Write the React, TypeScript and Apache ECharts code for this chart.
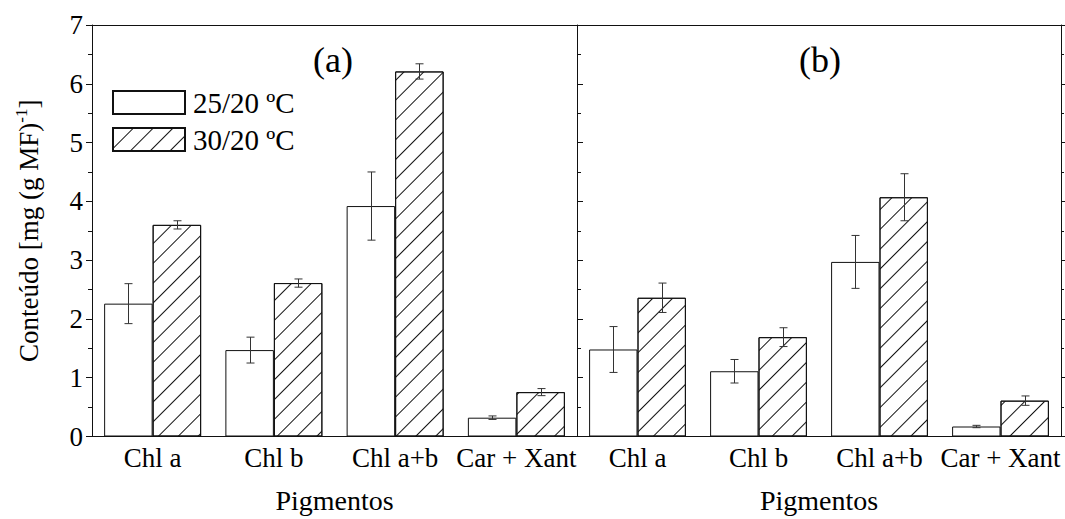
import React, { useEffect, useRef } from "react";
import * as echarts from "echarts";

const categories = ["Chl a", "Chl b", "Chl a+b", "Car + Xant"];
const seriesNames = ["25/20 ºC", "30/20 ºC"];
const yTickValues = [0, 1, 2, 3, 4, 5, 6, 7];

// Panel (a)
const a25 = [2.26, 1.47, 3.92, 0.32];
const a25Err = [0.34, 0.22, 0.58, 0.03];
const a30 = [3.6, 2.61, 6.21, 0.755];
const a30Err = [0.07, 0.07, 0.13, 0.06];
// Panel (b)
const b25 = [1.48, 1.11, 2.97, 0.17];
const b25Err = [0.39, 0.2, 0.45, 0.02];
const b30 = [2.36, 1.69, 4.07, 0.61];
const b30Err = [0.25, 0.16, 0.4, 0.08];

const FONT = "Liberation Serif";
const INK = "#111";

const hatch = {
  symbol: "rect",
  symbolSize: 1,
  dashArrayX: [1, 0],
  dashArrayY: [1, 12.4],
  rotation: -Math.PI / 4,
  color: "#111",
  backgroundColor: "#fff",
};

function errData(v25: number[], e25: number[], v30: number[], e30: number[]) {
  const out: number[][] = [];
  v25.forEach((v, i) => out.push([i, v, e25[i], 0]));
  v30.forEach((v, i) => out.push([i, v, e30[i], 1]));
  return out;
}

function renderErr(params: any, api: any) {
  const x = api.value(0);
  const v = api.value(1);
  const e = api.value(2);
  const s = api.value(3);
  const bw = api.size([1, 0])[0];
  const c = api.coord([x, v]);
  const cx = Math.round(c[0] + (s === 0 ? -0.2 : 0.2) * bw) + 0.5;
  const top = api.coord([x, v + e])[1];
  const bot = api.coord([x, v - e])[1];
  const hw = 4;
  const st = { stroke: "#333", lineWidth: 1 };
  return {
    type: "group",
    children: [
      { type: "line", shape: { x1: cx, y1: top, x2: cx, y2: bot }, style: st },
      { type: "line", shape: { x1: cx - hw, y1: top, x2: cx + hw, y2: top }, style: st },
      { type: "line", shape: { x1: cx - hw, y1: bot, x2: cx + hw, y2: bot }, style: st },
    ],
  };
}

function barSeries(name: string, data: number[], idx: number, hatched: boolean) {
  return {
    type: "bar",
    name,
    xAxisIndex: idx === 0 ? 0 : 3,
    yAxisIndex: idx === 0 ? 0 : 1,
    data,
    barWidth: "40%",
    barGap: "0%",
    itemStyle: {
      color: "#fff",
      borderColor: INK,
      borderWidth: 1,
      decal: hatched ? hatch : undefined,
    },
    emphasis: { disabled: true },
  };
}

export default function App() {
  const ref = useRef<HTMLDivElement>(null);
  useEffect(() => {
    if (!ref.current) return;
    const chart = echarts.init(ref.current, undefined, { renderer: "svg" });
    const gridTop = 25;
    const gridH = 411.5;
    const xAxes: any[] = [];
    [0, 1].forEach((g) => {
      xAxes.push({
        type: "category",
        gridIndex: g,
        data: categories,
        position: "bottom",
        axisLine: { lineStyle: { color: INK, width: 1 } },
        axisTick: { alignWithLabel: true, length: 5, lineStyle: { color: INK } },
        axisLabel: { fontFamily: FONT, fontSize: 27, color: "#000", margin: 8, interval: 0 },
        name: "Pigmentos",
        nameLocation: "middle",
        nameGap: 50,
        nameTextStyle: { fontFamily: FONT, fontSize: 28, color: "#000" },
      });
      xAxes.push({
        type: "category",
        gridIndex: g,
        data: categories,
        position: "bottom",
        axisLine: { show: false },
        axisTick: { length: 3, interval: 0, lineStyle: { color: INK } },
        axisLabel: { show: false },
      });
      xAxes.push({
        type: "category",
        gridIndex: g,
        data: categories,
        position: "top",
        axisLine: { lineStyle: { color: INK, width: 1 } },
        axisTick: { length: 2, interval: 0, lineStyle: { color: INK } },
        axisLabel: { show: false },
      });
    });

    const option: any = {
      animation: false,
      backgroundColor: "#fff",
      textStyle: { fontFamily: FONT },
      grid: [
        { left: 92, top: gridTop, width: 485, height: gridH, containLabel: false, outerBoundsMode: "none" },
        { left: 577, top: gridTop, width: 484, height: gridH, containLabel: false, outerBoundsMode: "none" },
      ],
      legend: {
        data: seriesNames,
        left: 112,
        top: 88,
        padding: 0,
        orient: "vertical",
        icon: "rect",
        itemWidth: 72,
        itemHeight: 23,
        itemGap: 8,
        selectedMode: false,
        textStyle: { fontFamily: FONT, fontSize: 29, color: "#000", lineHeight: 23, padding: [0, 0, 0, 3] },
      },
      xAxis: xAxes,
      yAxis: [
        {
          type: "value",
          gridIndex: 0,
          min: 0,
          max: 7,
          interval: 1,
          position: "left",
          axisLine: { show: true, lineStyle: { color: INK } },
          axisTick: { show: true, length: 6, lineStyle: { color: INK } },
          minorTick: { show: true, splitNumber: 2, length: 4, lineStyle: { color: INK } },
          splitLine: { show: false },
          axisLabel: {
            fontFamily: FONT,
            fontSize: 27,
            color: "#000",
            margin: 9,
            formatter: (v: number) => (yTickValues.includes(v) ? String(v) : ""),
          },
          name: "Conteúdo [mg (g MF){sup|-1}]",
          nameLocation: "middle",
          nameGap: 48,
          nameRotate: 90,
          nameTextStyle: {
            fontFamily: FONT,
            fontSize: 27,
            color: "#000",
            rich: {
              sup: { fontFamily: FONT, fontSize: 17, color: "#000", padding: [0, 0, 14, 0] },
            },
          },
        },
        {
          type: "value",
          gridIndex: 1,
          min: 0,
          max: 7,
          interval: 1,
          position: "left",
          axisLine: { show: true, lineStyle: { color: INK } },
          axisTick: { show: true, inside: true, length: 6, lineStyle: { color: INK } },
          minorTick: { show: true, splitNumber: 2, length: 4, lineStyle: { color: INK } },
          splitLine: { show: false },
          axisLabel: { show: false },
        },
        {
          type: "value",
          gridIndex: 1,
          min: 0,
          max: 7,
          interval: 1,
          position: "right",
          axisLine: { show: true, lineStyle: { color: INK } },
          axisTick: { show: true, length: 4, lineStyle: { color: INK } },
          minorTick: { show: true, splitNumber: 2, length: 3, lineStyle: { color: INK } },
          splitLine: { show: false },
          axisLabel: { show: false },
        },
      ],
      graphic: [
        {
          type: "text",
          left: 333 - 20,
          top: 42,
          style: { text: "(a)", fontFamily: FONT, fontSize: 36, fill: "#000" },
        },
        {
          type: "text",
          left: 819 - 20,
          top: 42,
          style: { text: "(b)", fontFamily: FONT, fontSize: 36, fill: "#000" },
        },
      ],
      series: [
        barSeries(seriesNames[0], a25, 0, false),
        barSeries(seriesNames[1], a30, 0, true),
        barSeries(seriesNames[0], b25, 1, false),
        barSeries(seriesNames[1], b30, 1, true),
        {
          type: "custom",
          xAxisIndex: 0,
          yAxisIndex: 0,
          data: errData(a25, a25Err, a30, a30Err),
          renderItem: renderErr,
          z: 5,
          silent: true,
        },
        {
          type: "custom",
          xAxisIndex: 3,
          yAxisIndex: 1,
          data: errData(b25, b25Err, b30, b30Err),
          renderItem: renderErr,
          z: 5,
          silent: true,
        },
      ],
    };
    chart.setOption(option);
    return () => chart.dispose();
  }, []);
  return (
    <div
      ref={ref}
      style={{ position: "fixed", left: 0, top: 0, width: 1065, height: 519, background: "#fff" }}
    />
  );
}
